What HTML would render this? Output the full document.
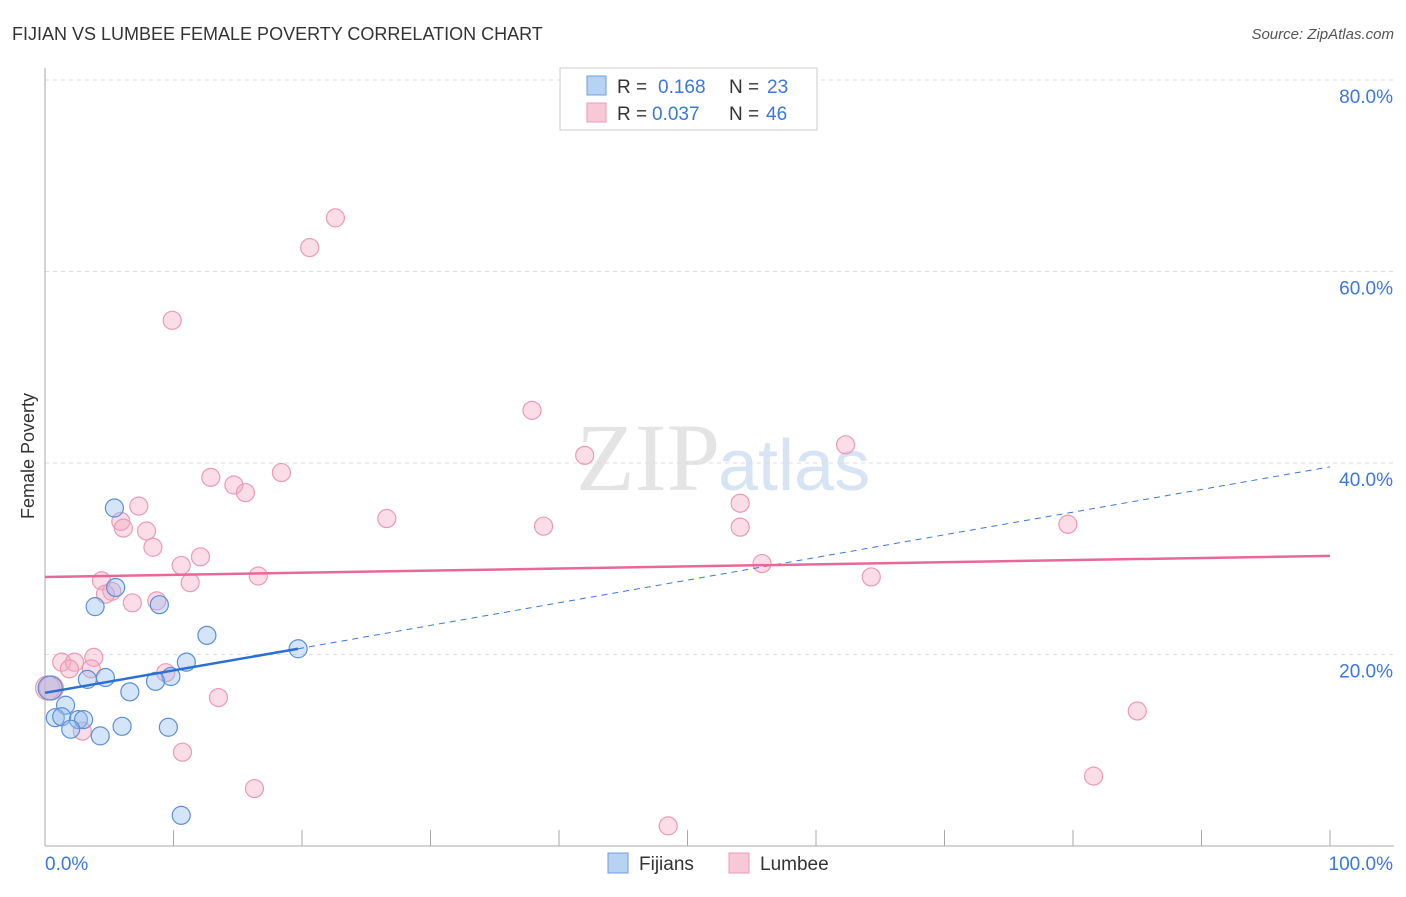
<!DOCTYPE html>
<html><head><meta charset="utf-8"><style>
body{margin:0;background:#fff;font-family:"Liberation Sans",sans-serif}
</style></head><body>
<svg id="c" width="1406" height="892" xmlns="http://www.w3.org/2000/svg">
<text x="12" y="40" font-size="18" fill="#333">FIJIAN VS LUMBEE FEMALE POVERTY CORRELATION CHART</text>
<text x="1394" y="39" font-size="15" fill="#555" font-style="italic" text-anchor="end">Source: ZipAtlas.com</text>
<text x="720" y="490" font-size="96" fill="#e4e4e4" text-anchor="end" font-family="Liberation Serif">ZIP</text>
<text x="718" y="490" font-size="72" fill="#d6e4f4">atlas</text>
<text x="34" y="456" font-size="18" fill="#333" text-anchor="middle" transform="rotate(-90 34 456)">Female Poverty</text>
<g id="grid"></g><g id="marks"></g>
<g font-size="19">
<rect x="560" y="68" width="257" height="62" fill="#fff" stroke="#ccc"/>
<rect x="587" y="76" width="19" height="19" fill="#b8d2f4" stroke="#6d9ee0"/>
<text x="617" y="93" fill="#333">R =</text><text x="658" y="93" fill="#3b78d8">0.168</text>
<text x="729" y="93" fill="#333">N =</text><text x="767" y="93" fill="#3b78d8">23</text>
<rect x="587" y="103" width="19" height="19" fill="#f8c8d6" stroke="#ec9ab4"/>
<text x="617" y="120" fill="#333">R =</text><text x="652" y="120" fill="#3b78d8">0.037</text>
<text x="729" y="120" fill="#333">N =</text><text x="766" y="120" fill="#3b78d8">46</text>
</g>
<g>
<rect x="608" y="853" width="20" height="20" fill="#b8d2f4" stroke="#6d9ee0"/>
<text x="639" y="870" font-size="19" fill="#333">Fijians</text>
<rect x="729" y="853" width="20" height="20" fill="#f8c8d6" stroke="#ec9ab4"/>
<text x="760" y="870" font-size="19" fill="#333">Lumbee</text>
</g>
</svg>
<script>
const yTicks=[20,40,60,80];
const xTickLabels=["0.0%","100.0%"];
const fijX=[5.4,5.5,3.9,8.9,12.6,19.7,11.0,9.8,8.6,4.7,3.3,6.6,0.4,1.6,0.8,1.3,2.6,3.0,2.0,4.3,6.0,9.6,10.6];
const fijY=[35.3,27.0,25.0,25.2,22.0,20.6,19.2,17.7,17.2,17.6,17.4,16.1,16.5,14.7,13.4,13.5,13.2,13.2,12.2,11.5,12.5,12.4,3.2];
const lumX=[22.6,20.6,9.9,37.9,62.3,42.0,18.4,12.9,14.7,15.6,7.3,26.6,5.9,6.1,38.8,54.1,54.1,79.6,7.9,8.4,12.1,10.6,55.8,16.6,4.4,11.3,64.3,5.2,4.7,6.8,8.7,3.8,1.3,2.3,1.9,3.6,9.4,0.2,0.5,13.5,2.9,10.7,85.0,16.3,81.6,48.5];
const lumY=[65.6,62.5,54.9,45.5,41.9,40.8,39.0,38.5,37.7,36.9,35.5,34.2,33.9,33.2,33.4,35.8,33.3,33.6,32.9,31.2,30.2,29.3,29.5,28.2,27.7,27.5,28.1,26.6,26.3,25.4,25.6,19.7,19.2,19.2,18.5,18.5,18.1,16.5,16.5,15.5,12.0,9.8,14.1,6.0,7.3,2.1];
const fijLine=[16.0,20.6,39.6];
const lumLine=[28.1,30.3];
const NS="http://www.w3.org/2000/svg";
const X=v=>45+v*12.85, Y=v=>846-v*9.575;
function mk(t,a,p){const e=document.createElementNS(NS,t);for(const k in a)e.setAttribute(k,a[k]);(p||document.getElementById('marks')).appendChild(e);return e;}
const g=document.getElementById('grid');
for(const t of yTicks){
 const l=mk('line',{x1:45,x2:1394,y1:Y(t),y2:Y(t),stroke:'#ddd','stroke-dasharray':'4,4'},g);
 
 
 const tx=mk('text',{x:1393,y:Y(t)+23,'font-size':19,fill:'#3b78d8','text-anchor':'end'},g);tx.textContent=t.toFixed(1)+'%';
 
 
}
const ax=mk('line',{x1:45,x2:45,y1:68,y2:846,stroke:'#aaa'},g);


const bx=mk('line',{x1:45,x2:1394,y1:846,y2:846,stroke:'#aaa'},g);


for(let i=0;i<=10;i++){const t=mk('line',{x1:X(i*10),x2:X(i*10),y1:830,y2:846,stroke:'#aaa'},g);
 
 }
const l0=mk('text',{x:45,y:870,'font-size':19,fill:'#3b78d8'},g);l0.textContent=xTickLabels[0];


const l1=mk('text',{x:1393,y:870,'font-size':19,fill:'#3b78d8','text-anchor':'end'},g);l1.textContent=xTickLabels[1];


lumX.forEach((x,i)=>{const c=mk('circle',{cx:X(x),cy:Y(lumY[i]),r:i>=37&&i<=38?12:9,fill:'rgba(244,170,196,0.4)',stroke:'#eb9ab5','stroke-width':1.2});
 
 });
fijX.forEach((x,i)=>{const c=mk('circle',{cx:X(x),cy:Y(fijY[i]),r:i==12?12:9,fill:'rgba(150,190,240,0.4)',stroke:'#5b8fd9','stroke-width':1.2});
 
 });
const fd=mk('line',{x1:X(fijX[5]),y1:Y(fijLine[1]),x2:X(100),y2:Y(fijLine[2]),stroke:'#3b78d8','stroke-dasharray':'6,5','stroke-width':1});


const fl=mk('line',{x1:X(0),y1:Y(fijLine[0]),x2:X(fijX[5]),y2:Y(fijLine[1]),stroke:'#2a6fd6','stroke-width':2.5});


const ll=mk('line',{x1:X(0),y1:Y(lumLine[0]),x2:X(100),y2:Y(lumLine[1]),stroke:'#e8689a','stroke-width':2.5});


</script>
</body></html>
